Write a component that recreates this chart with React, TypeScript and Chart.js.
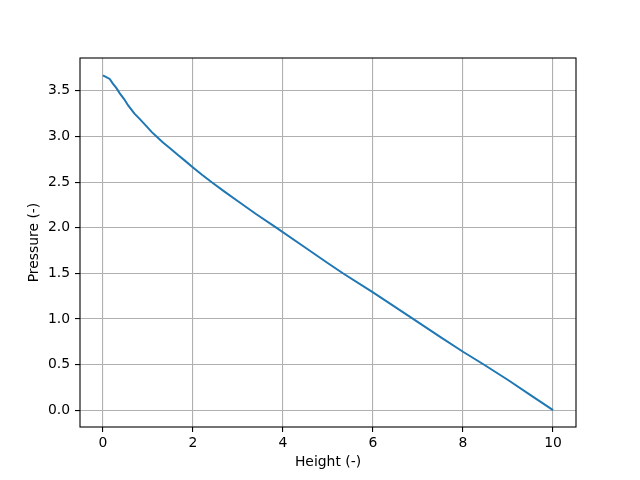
import { useEffect, useRef } from 'react';
import { Chart, registerables } from 'chart.js';

Chart.register(...registerables);

const heights = [
  0, 0.15, 0.22, 0.3, 0.37, 0.47, 0.56, 0.7, 0.82, 0.97, 1.08, 1.19, 1.34,
  1.49, 1.66, 1.82, 2.0, 2.2, 2.41, 2.7, 3.0, 3.4, 3.85, 4.5, 5.0, 5.33,
  6.0, 6.89, 7.5, 8.0, 8.46, 9.0, 9.5, 10.0,
];
const pressures = [
  3.67, 3.63, 3.58, 3.53, 3.475, 3.41, 3.34, 3.25, 3.19, 3.11, 3.05, 3.0,
  2.93, 2.87, 2.8, 2.735, 2.66, 2.58, 2.5, 2.395, 2.29, 2.15, 2.0, 1.78,
  1.61, 1.5, 1.29, 1.0, 0.8, 0.64, 0.5, 0.33, 0.165, 0.0,
];
const xTicks = [0, 2, 4, 6, 8, 10];
const yTicks = [0, 0.5, 1.0, 1.5, 2.0, 2.5, 3.0, 3.5];

const FONT = { family: 'DejaVu Sans', size: 13.9 };

const frame = {
  id: 'frame',
  afterDraw(chart: Chart) {
    const { ctx, chartArea: a } = chart;
    ctx.save();
    ctx.strokeStyle = '#000';
    ctx.lineWidth = 1.1;
    ctx.strokeRect(a.left, a.top, a.right - a.left, a.bottom - a.top);
    ctx.restore();
  },
};

export default function App() {
  const canvasRef = useRef<HTMLCanvasElement>(null);

  useEffect(() => {
    document.body.style.margin = '0';
    if (!canvasRef.current) return;
    const existing = Chart.getChart(canvasRef.current);
    if (existing) existing.destroy();

    const chart = new Chart(canvasRef.current, {
      type: 'scatter',
      data: {
        datasets: [{
          data: heights.map((h, i) => ({ x: h, y: pressures[i] })),
          showLine: true,
          borderColor: '#1f77b4',
          borderWidth: 2,
          pointRadius: 0,
          tension: 0,
        }],
      },
      options: {
        responsive: false,
        animation: false,
        layout: { padding: { left: 22, top: 58, right: 64, bottom: 5 } },
        plugins: { legend: { display: false }, tooltip: { enabled: false } },
        scales: {
          x: {
            type: 'linear',
            min: -0.51,
            max: 10.51,
            afterBuildTicks: s => { s.ticks = xTicks.map(v => ({ value: v })); },
            afterFit: s => { s.height = 48; },
            grid: { color: '#b0b0b0', lineWidth: 1.1, tickColor: '#000', tickLength: 5 },
            border: { display: false },
            ticks: { font: FONT, color: '#000', padding: 3, maxRotation: 0, callback: v => String(v) },
            title: { display: true, text: 'Height (-)', font: FONT, color: '#000', padding: { top: 4, bottom: 4 } },
          },
          y: {
            type: 'linear',
            min: -0.185,
            max: 3.86,
            afterBuildTicks: s => { s.ticks = yTicks.map(v => ({ value: v })); },
            afterFit: s => { s.width = 58; },
            grid: { color: '#b0b0b0', lineWidth: 1.1, tickColor: '#000', tickLength: 5 },
            border: { display: false },
            ticks: { font: FONT, color: '#000', padding: 5, callback: v => Number(v).toFixed(1) },
            title: { display: true, text: 'Pressure (-)', font: FONT, color: '#000', padding: { top: 4, bottom: 4 } },
          },
        },
      },
      plugins: [frame],
    });

    return () => { chart.destroy(); };
  }, []);

  return <canvas ref={canvasRef} width={640} height={480} style={{ display: 'block', width: 640, height: 480 }} />;
}
